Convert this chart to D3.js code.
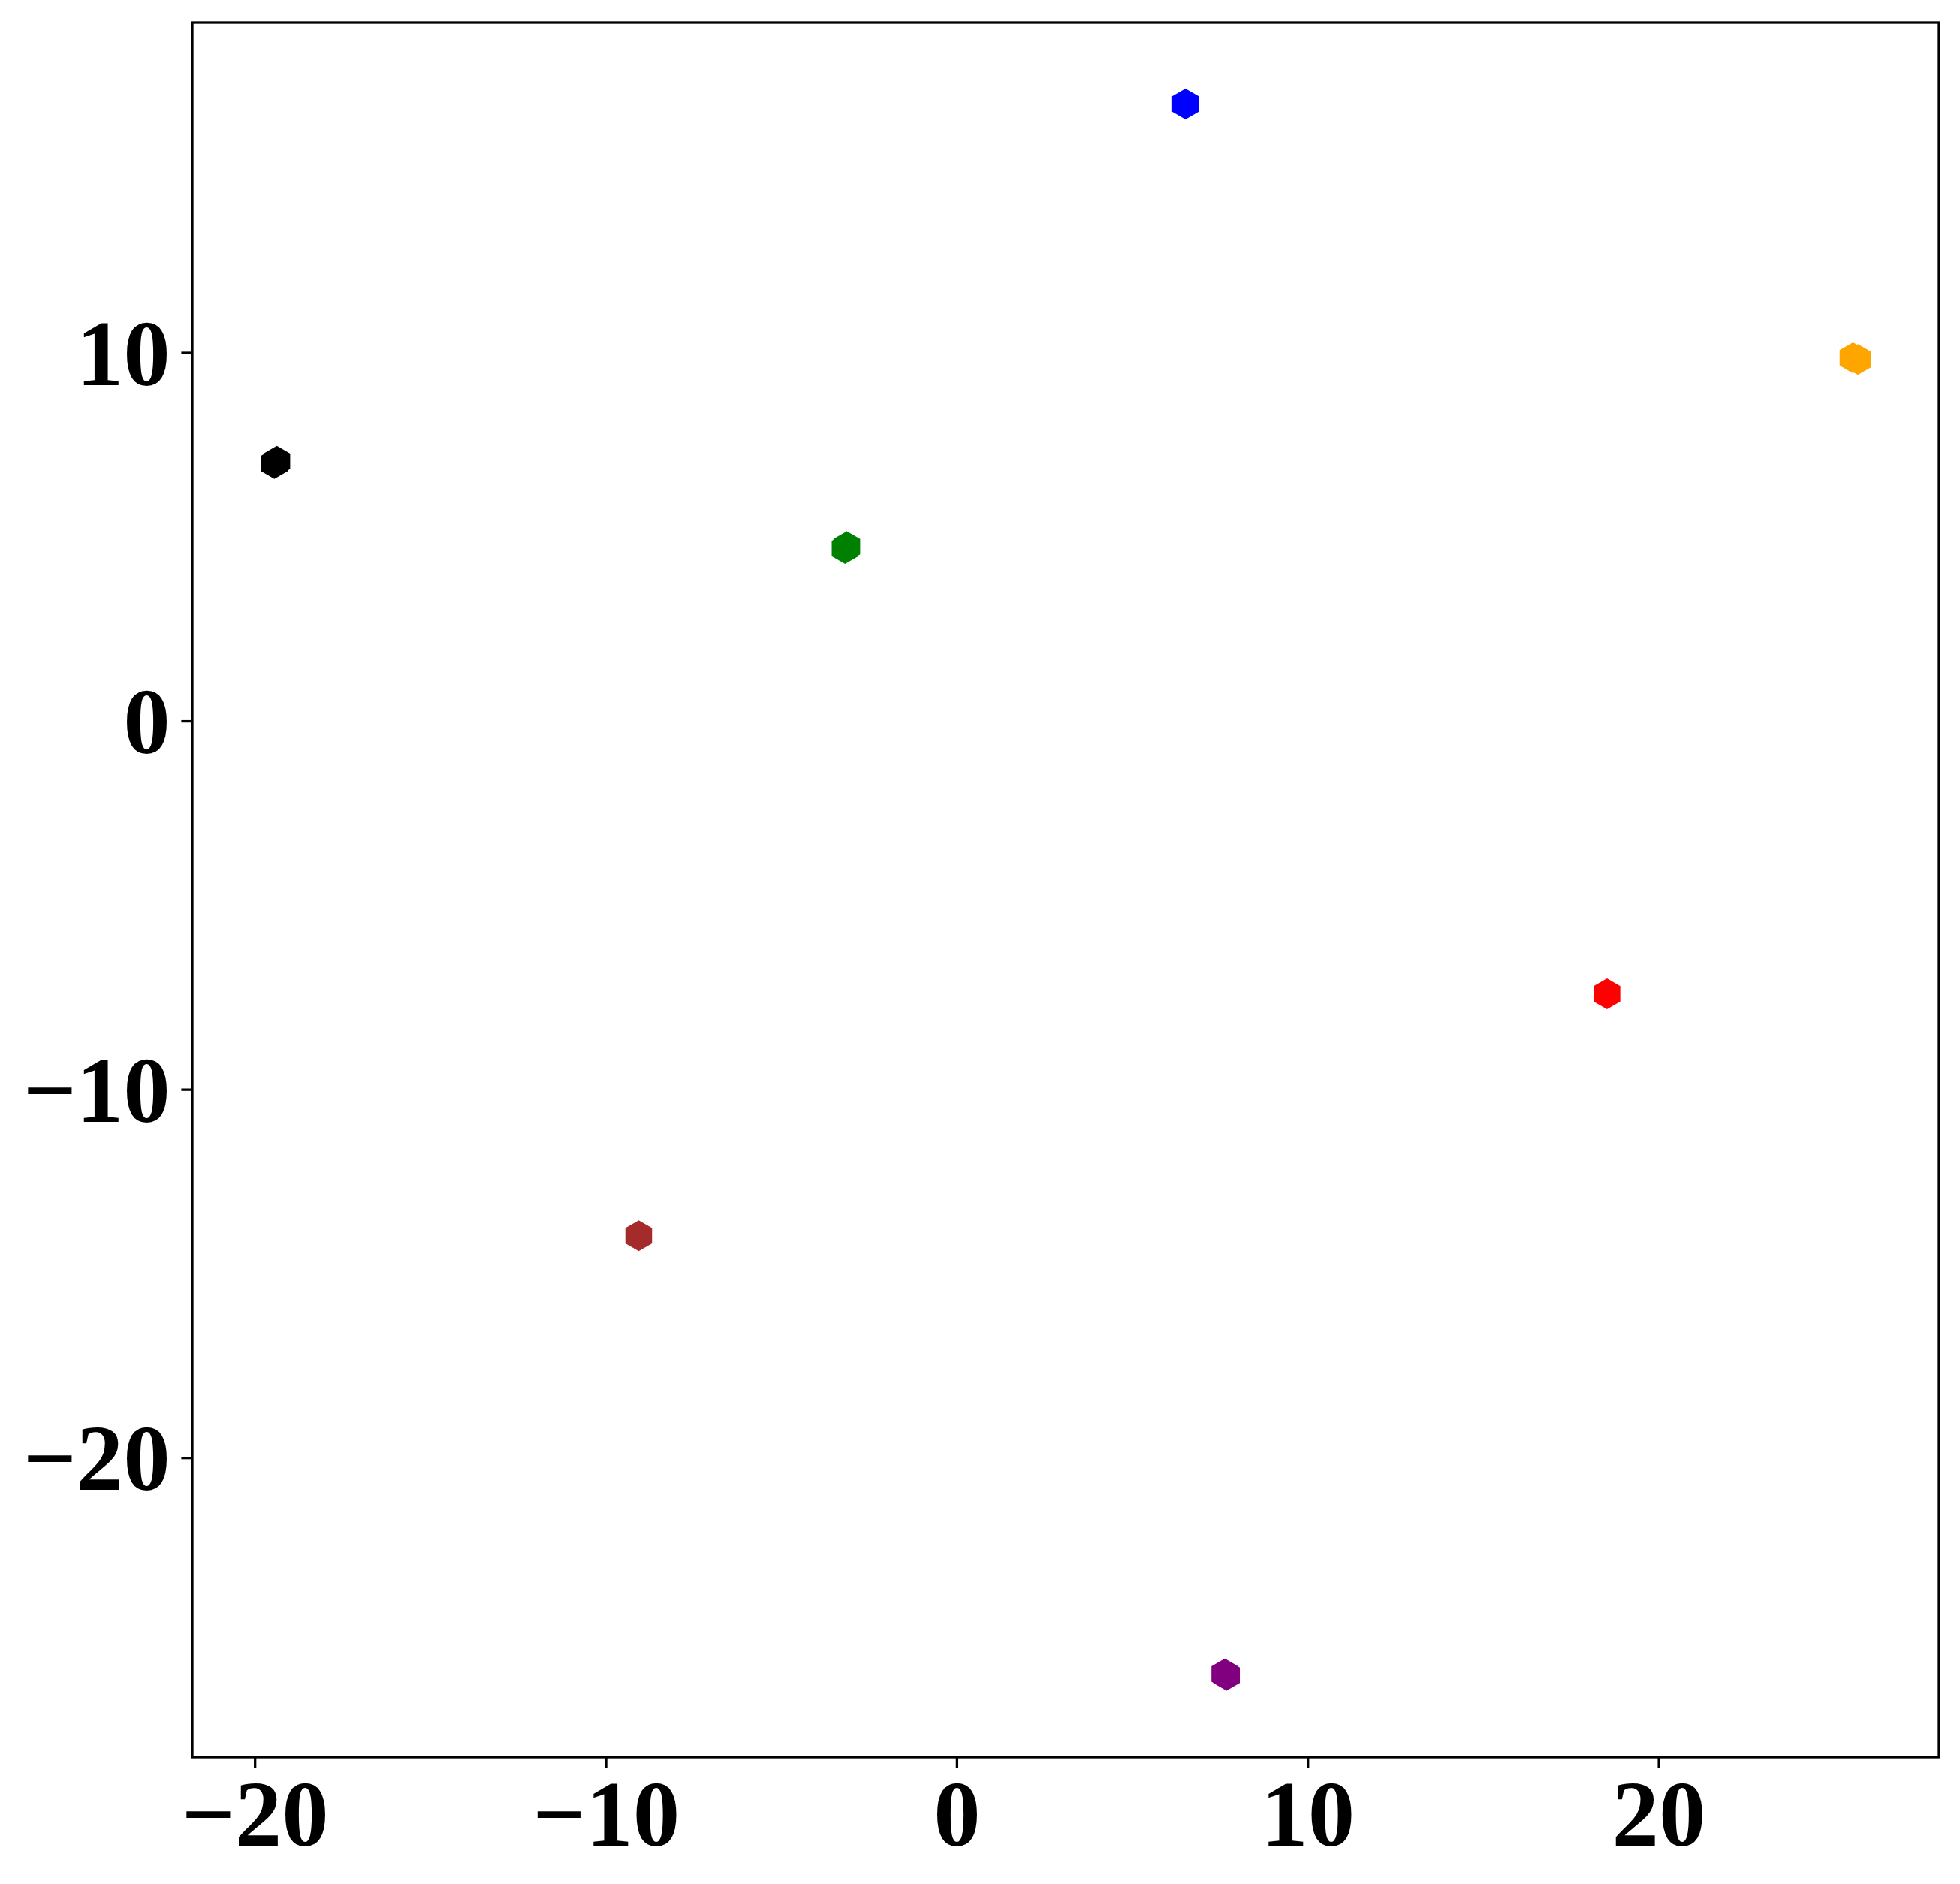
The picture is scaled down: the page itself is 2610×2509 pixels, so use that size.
<!DOCTYPE html>
<html>
<head>
<meta charset="utf-8">
<script src="https://cdn.jsdelivr.net/npm/d3@7"></script>
<style>
  body { margin: 0; background: #fff; }
  svg text { font-family: "Liberation Serif", "Times New Roman", serif !important; font-weight: bold; }
</style>
</head>
<body>
<div id="chart"></div>
<script>
// cluster colours
let groupColors = ["blue", "orange", "black", "green", "red", "brown", "purple"];

// embedded points (a few overlapping per cluster)
let pointX = [6.52, 25.54, 25.68, -19.44, -19.37, -3.18, -3.13, 18.53, -9.06, 7.64, 7.69];
let pointY = [16.75, 9.86, 9.81, 6.99, 7.05, 4.68, 4.73, -7.41, -13.98, -25.87, -25.91];
let pointGroup = [0, 1, 1, 2, 2, 3, 3, 4, 5, 6, 6];

let xTicks = [-20, -10, 0, 10, 20];
let yTicks = [-20, -10, 0, 10];

let width = 2610, height = 2509;
let margin = {left: 256, right: 28, top: 30, bottom: 169};

let x = d3.scaleLinear().domain([-21.78, 27.99]).range([margin.left, width - margin.right]);
let y = d3.scaleLinear().domain([-28.13, 18.96]).range([height - margin.bottom, margin.top]);

let svg = d3.select("#chart").append("svg")
  .attr("width", width).attr("height", height);

// hexagon marker, pointy top like matplotlib 'h'
let hexagon = {
  draw: function(context, size) {
    let r = Math.sqrt(size);
    for (let i = 0; i < 6; i++) {
      let a = Math.PI / 2 + i * Math.PI / 3;
      let px = r * Math.cos(a), py = -r * Math.sin(a);
      if (i === 0) context.moveTo(px, py); else context.lineTo(px, py);
    }
    context.closePath();
  }
};
let marker = d3.symbol().type(hexagon).size(20.5 * 20.5);

svg.append("g").selectAll("path")
  .data(pointX.map((v, i) => i))
  .enter().append("path")
  .attr("d", marker)
  .attr("transform", i => "translate(" + x(pointX[i]) + "," + y(pointY[i]) + ")")
  .attr("fill", i => groupColors[pointGroup[i]]);

let fmt = d3.format("");

let xAxis = svg.append("g")
  .attr("transform", "translate(0," + (height - margin.bottom) + ")")
  .call(d3.axisBottom(x).tickValues(xTicks).tickFormat(fmt).tickSize(14.6).tickPadding(14.6));

let yAxis = svg.append("g")
  .attr("transform", "translate(" + margin.left + ",0)")
  .call(d3.axisLeft(y).tickValues(yTicks).tickFormat(fmt).tickSize(14.6).tickPadding(14.6));

[xAxis, yAxis].forEach(function(a) {
  a.attr("font-family", null);
  a.select(".domain").remove();
  a.selectAll(".tick line").attr("stroke", "#000").attr("stroke-width", 3.3);
  a.selectAll(".tick text").attr("fill", "#000").style("font-size", "125px");
});
xAxis.selectAll(".tick text").attr("dy", "0.71em");
yAxis.selectAll(".tick text").attr("dy", "0.34em");

// frame
svg.append("rect")
  .attr("x", margin.left).attr("y", margin.top)
  .attr("width", width - margin.left - margin.right)
  .attr("height", height - margin.top - margin.bottom)
  .attr("fill", "none").attr("stroke", "#000").attr("stroke-width", 3.3);
</script>
</body>
</html>
